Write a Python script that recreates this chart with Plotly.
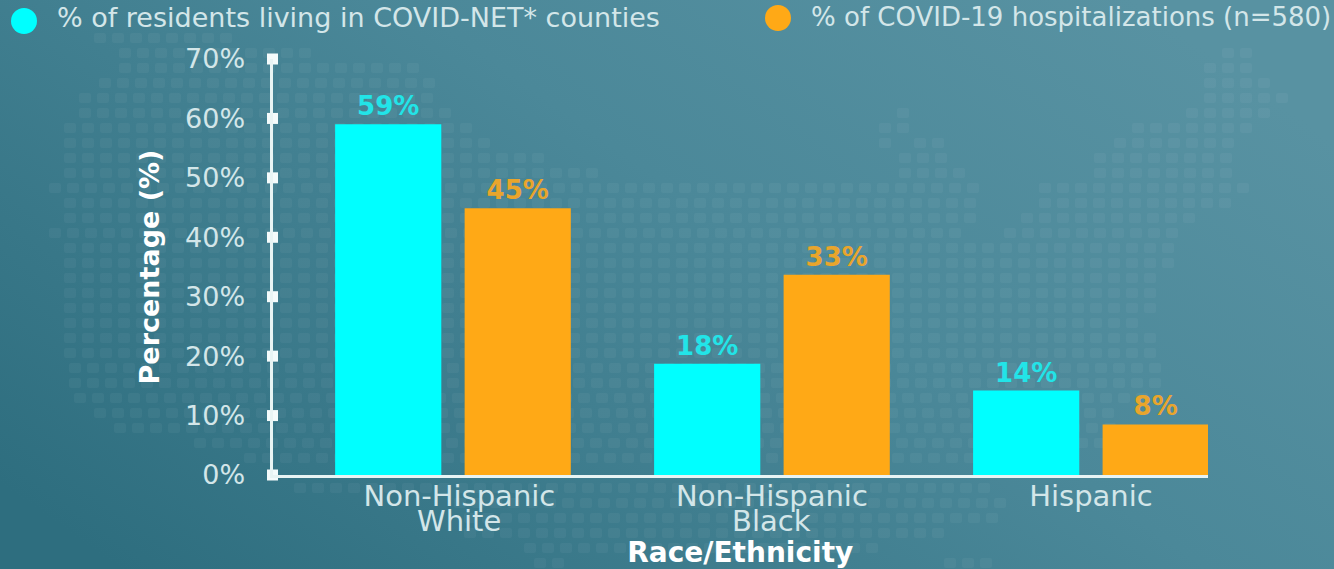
import base64
import plotly.graph_objects as go

W, H = 1334, 569
category_line1 = ["Non-Hispanic", "Non-Hispanic", "Hispanic"]
category_line2 = ["White", "Black", ""]
positions = [0, 1, 2]
label_positions = [0.02, 1, 2]
series_residents = "% of residents living in COVID-NET* counties"
series_hosp = "% of COVID-19 hospitalizations (n=580)"
residents_values = [59, 18.7, 14.2]
hosp_values = [44.9, 33.7, 8.5]
residents_labels = ["59%", "18%", "14%"]
hosp_labels = ["45%", "33%", "8%"]
tick_values = [0, 10, 20, 30, 40, 50, 60, 70]
tick_labels = ["0%", "10%", "20%", "30%", "40%", "50%", "60%", "70%"]

FONT = "DejaVu Sans"
CYAN = "#00ffff"
ORANGE = "#ffa916"
TICK_TEXT = "#d3e6e9"

# decorative dotted world-map backdrop: (row y, [(x start, x end), ...])
dot_rows = [
    (38, [(100, 235)]), (53, [(125, 320), (1228, 1246)]), (68, [(125, 430), (1210, 1246)]),
    (83, [(105, 430), (1210, 1264)]), (98, [(85, 440), (1210, 1282)]),
    (113, [(85, 450), (903, 903), (1192, 1264)]), (128, [(70, 480), (885, 903), (1138, 1246)]),
    (143, [(70, 500), (885, 885), (920, 945), (1120, 1228)]), (158, [(70, 540), (905, 945), (1100, 1228)]),
    (173, [(70, 600), (905, 960), (1100, 1228)]), (188, [(55, 975), (1045, 1246)]),
    (203, [(70, 975), (1045, 1228)]), (218, [(70, 975), (1027, 1192)]), (233, [(55, 960), (1010, 1174)]),
    (248, [(70, 1174)]), (263, [(70, 1174)]), (278, [(70, 1156)]), (293, [(70, 1156)]),
    (308, [(70, 1156)]), (323, [(70, 1140)]), (338, [(70, 1156)]), (353, [(70, 1156)]),
    (368, [(75, 1156)]), (383, [(75, 1156)]), (398, [(80, 1156)]), (413, [(100, 1120)]),
    (428, [(120, 1120)]), (443, [(200, 1100)]), (458, [(250, 1000)]), (488, [(300, 1000)]),
    (503, [(460, 1000)]), (518, [(470, 1000)]), (533, [(470, 950)]), (548, [(530, 880)]),
    (563, [(540, 560), (950, 1000)]),
]


def backdrop():
    dots = []
    for y, spans in dot_rows:
        for x0, x1 in spans:
            x = x0
            while x <= x1:
                dots.append(f'<rect x="{x - 6}" y="{y - 5}" width="12" height="10" rx="2"/>')
                x += 18
    svg = (
        f'<svg xmlns="http://www.w3.org/2000/svg" width="{W}" height="{H}" viewBox="0 0 {W} {H}">'
        '<defs><linearGradient id="g" x1="0" y1="0.85" x2="1" y2="0.25">'
        '<stop offset="0" stop-color="#2e6e7f"/><stop offset="0.6" stop-color="#4b8899"/>'
        '<stop offset="1" stop-color="#5892a2"/></linearGradient></defs>'
        f'<rect width="{W}" height="{H}" fill="url(#g)"/>'
        '<g fill="#ffffff" fill-opacity="0.045">' + "".join(dots) + "</g></svg>"
    )
    return "data:image/svg+xml;base64," + base64.b64encode(svg.encode()).decode()


X_RANGE = [-0.5658, 2.367]
fig = go.Figure()
fig.add_bar(x=positions, y=residents_values, name=series_residents, marker_color=CYAN, marker_line_width=0,
            text=residents_labels, textposition="outside", cliponaxis=False, showlegend=False,
            textfont=dict(family=FONT, size=26, color="#22e4e8", weight="bold"))
fig.add_bar(x=positions, y=hosp_values, name=series_hosp, marker_color=ORANGE, marker_line_width=0,
            text=hosp_labels, textposition="outside", cliponaxis=False, showlegend=False,
            textfont=dict(family=FONT, size=26, color="#e9a52c", weight="bold"))
fig.add_scatter(x=[X_RANGE[0]] * len(tick_values), y=tick_values, mode="markers", cliponaxis=False,
                marker=dict(symbol="square", size=11, color="#f4fbfb"), showlegend=False, hoverinfo="skip")

line2_annotations = [
    dict(text=t, xref="x", yref="paper", x=p, y=1 - 521 / H, xanchor="center", yanchor="middle",
         showarrow=False, font=dict(family=FONT, size=29, color=TICK_TEXT))
    for t, p in zip(category_line2, label_positions) if t
]

fig.update_layout(
    width=W, height=H, margin=dict(l=0, r=0, t=0, b=0), autosize=False,
    paper_bgcolor="#4b8798", plot_bgcolor="rgba(0,0,0,0)",
    barmode="group", bargap=0.188, bargroupgap=0.18,
    font=dict(family=FONT, color=TICK_TEXT, size=24),
    images=[dict(source=backdrop(), xref="paper", yref="paper", x=0, y=1, sizex=1, sizey=1,
                 xanchor="left", yanchor="top", sizing="stretch", layer="below")],
    shapes=[
        dict(type="circle", xref="paper", yref="paper", x0=11 / W, x1=37 / W, y0=1 - 34 / H, y1=1 - 8 / H,
             fillcolor=CYAN, line_width=0),
        dict(type="circle", xref="paper", yref="paper", x0=765 / W, x1=791 / W, y0=1 - 31 / H, y1=1 - 5 / H,
             fillcolor=ORANGE, line_width=0),
    ],
    annotations=[
        dict(text=series_residents, xref="paper", yref="paper", x=55 / W, y=1 - 18 / H, xanchor="left",
             yanchor="middle", showarrow=False, font=dict(family=FONT, size=27, color=TICK_TEXT)),
        dict(text=series_hosp, xref="paper", yref="paper", x=809 / W, y=1 - 17 / H, xanchor="left",
             yanchor="middle", showarrow=False, font=dict(family=FONT, size=26, color=TICK_TEXT)),
    ] + line2_annotations,
    xaxis=dict(domain=[272.5 / W, 1208 / W], range=X_RANGE, tickmode="array", tickvals=label_positions,
               ticktext=category_line1, showgrid=False, zeroline=False, showline=True, linecolor="#e8f4f4",
               linewidth=3, ticks="", tickangle=0, ticklabelstandoff=-7,
               tickfont=dict(family=FONT, size=29, color=TICK_TEXT), automargin=False,
               title=dict(text="Race/Ethnicity", standoff=43, font=dict(family=FONT, size=28, color="#ffffff", weight="bold"))),
    yaxis=dict(domain=[1 - 475 / H, 1 - 59 / H], range=[0, 70], tickmode="array", tickvals=tick_values,
               ticktext=tick_labels, showgrid=False, zeroline=False, showline=True, linecolor="#e8f4f4",
               linewidth=3, ticks="outside", ticklen=19, tickcolor="rgba(0,0,0,0)",
               tickfont=dict(family=FONT, size=27, color=TICK_TEXT), automargin=False,
               title=dict(text="Percentage (%)", standoff=18, font=dict(family=FONT, size=27, color="#ffffff", weight="bold"))),
)

fig.write_html("out.html", config=dict(displayModeBar=False),
               post_script="document.body.style.margin='0';document.body.style.overflow='hidden';")
